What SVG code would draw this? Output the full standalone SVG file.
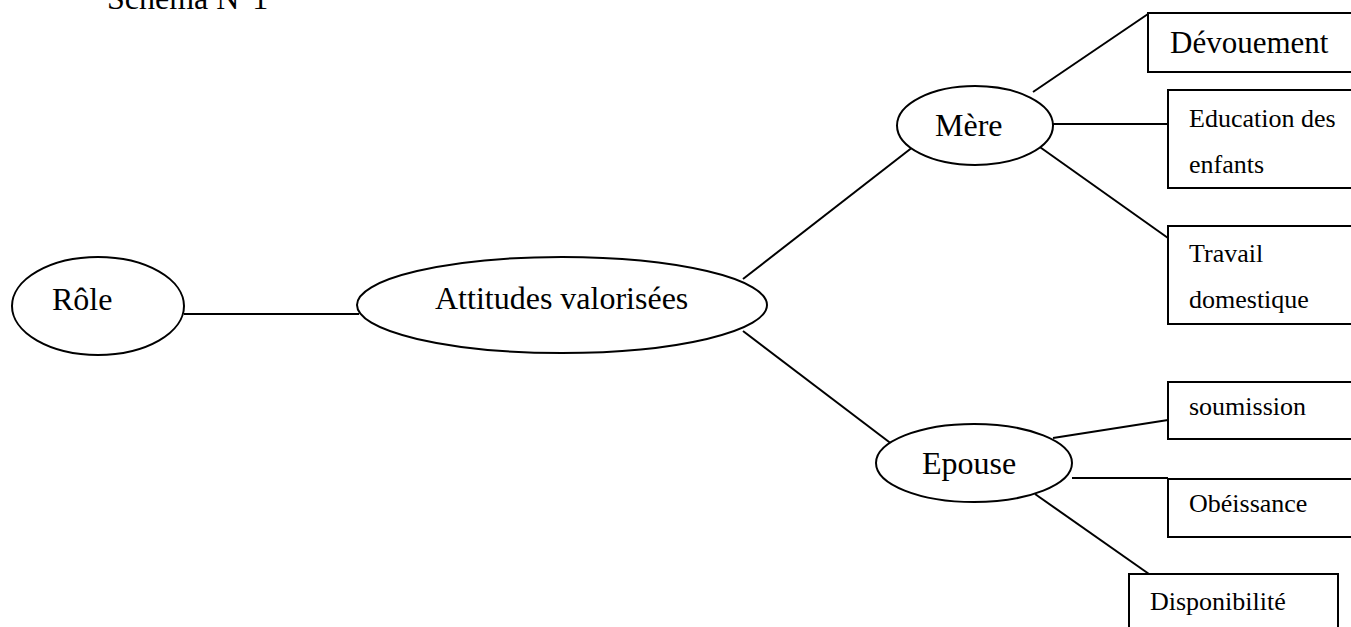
<svg xmlns="http://www.w3.org/2000/svg" width="1351" height="627" viewBox="0 0 1351 627">
<style>
.s{fill:none;stroke:#000;stroke-width:2}
.b{fill:#fff;stroke:#000;stroke-width:2}
.t{font-family:"Liberation Serif","Times New Roman",serif;fill:#000}
.l{font-size:32px}
.m{font-size:26px}
</style>
<rect width="1351" height="627" fill="#fff"/>
<text class="t l" x="107" y="9">Schema N°1</text>
<g id="connectors" class="s">
<line x1="184" y1="314" x2="359" y2="314"/>
<line x1="743" y1="279" x2="918" y2="143"/>
<line x1="743" y1="331" x2="897" y2="448"/>
<line x1="1033" y1="92" x2="1148" y2="14"/>
<line x1="1053" y1="124" x2="1168" y2="124"/>
<line x1="1037" y1="145" x2="1168" y2="238"/>
<line x1="1053" y1="438" x2="1168" y2="420"/>
<line x1="1072" y1="478" x2="1168" y2="478"/>
<line x1="1035" y1="494" x2="1149" y2="574"/>
</g>
<g id="role"><ellipse class="b" cx="98" cy="306" rx="86" ry="49"/><text class="t l" x="52" y="310">Rôle</text></g>
<g id="attitudes"><ellipse class="b" cx="562" cy="305" rx="205" ry="48"/><text class="t l" x="435" y="309">Attitudes valorisées</text></g>
<g id="mere"><ellipse class="b" cx="975" cy="125.5" rx="78" ry="39.5"/><text class="t l" x="935" y="136">Mère</text></g>
<g id="epouse"><ellipse class="b" cx="974" cy="463" rx="98" ry="39"/><text class="t l" x="922" y="474">Epouse</text></g>
<g id="devouement"><rect class="b" x="1148" y="13" width="220" height="59"/><text class="t" style="font-size:31px" x="1170" y="53">Dévouement</text></g>
<g id="education"><rect class="b" x="1168" y="90" width="200" height="98"/><text class="t m" x="1189" y="127">Education des</text><text class="t m" x="1189" y="173">enfants</text></g>
<g id="travail"><rect class="b" x="1168" y="226" width="200" height="98"/><text class="t m" x="1189" y="262">Travail</text><text class="t m" x="1189" y="308">domestique</text></g>
<g id="soumission"><rect class="b" x="1168" y="382" width="200" height="57"/><text class="t m" x="1189" y="415">soumission</text></g>
<g id="obeissance"><rect class="b" x="1168" y="479" width="200" height="58"/><text class="t m" x="1189" y="512">Obéissance</text></g>
<g id="disponibilite"><rect class="b" x="1129" y="574" width="209" height="70"/><text class="t m" x="1150" y="610">Disponibilité</text></g>
</svg>
